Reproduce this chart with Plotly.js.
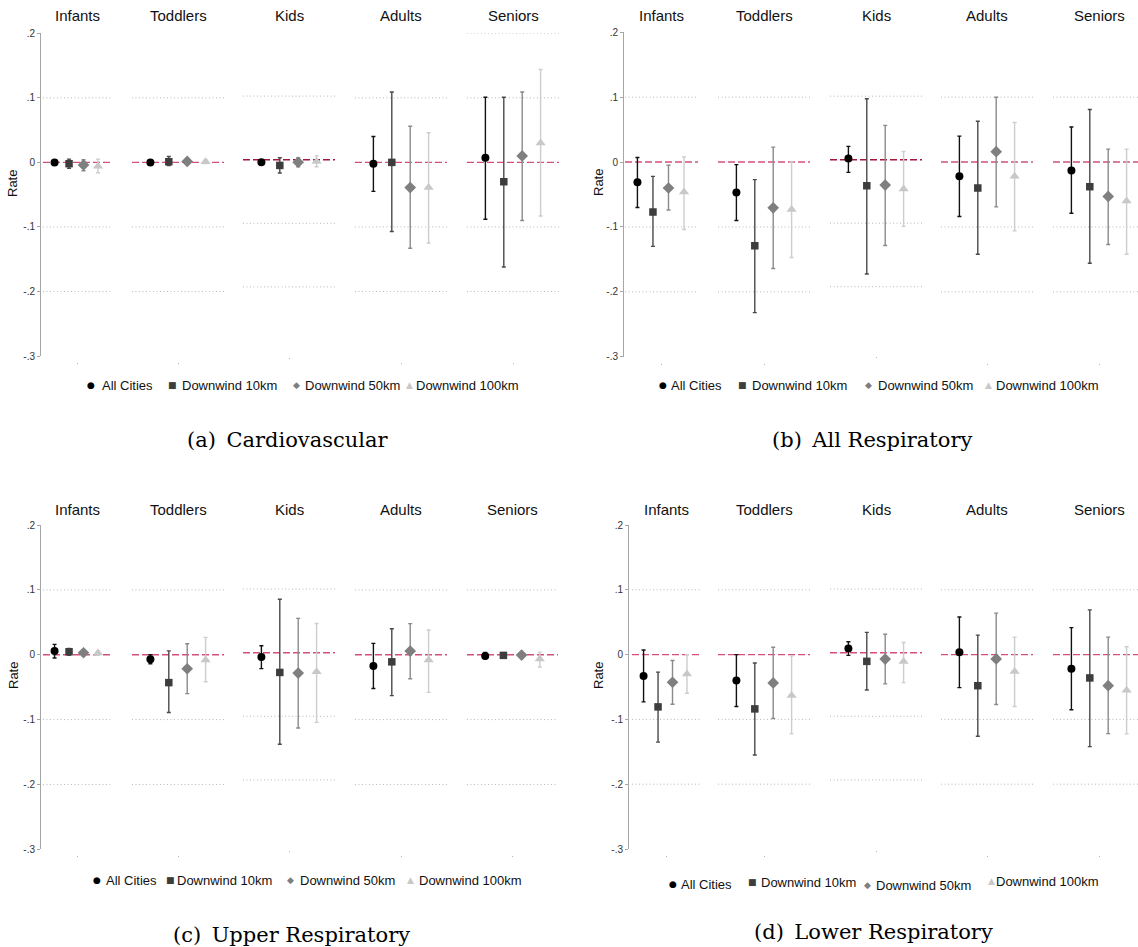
<!DOCTYPE html>
<html>
<head>
<meta charset="utf-8">
<script src="https://cdn.plot.ly/plotly-3.0.1.min.js"></script>
<style>html,body{margin:0;padding:0;background:#fff;}#chart{width:1138px;height:947px;}</style>
</head>
<body>
<div id="chart"></div>
<script>
// ---------- categories / labels ----------
const ageGroups = ['Infants', 'Toddlers', 'Kids', 'Adults', 'Seniors'];
const seriesNames = ['All Cities', 'Downwind 10km', 'Downwind 50km', 'Downwind 100km'];
const panelCaptions = ['(a)\u2002Cardiovascular', '(b)\u2002All Respiratory', '(c)\u2002Upper Respiratory', '(d)\u2002Lower Respiratory'];
const yTickVals = [0.2, 0.1, 0, -0.1, -0.2, -0.3];
const yTickText = ['.2', '.1', '0', '-.1', '-.2', '-.3'];
const yAxisTitle = 'Rate';

// ---------- (a) Cardiovascular : estimate, lower CI, upper CI per age group ----------
const cvAll = [0.000, 0.000, -0.004, -0.002, 0.007];
const cvAllLo = [-0.002, -0.002, -0.007, -0.045, -0.088];
const cvAllHi = [0.002, 0.002, -0.001, 0.040, 0.101];
const cv10 = [-0.002, 0.001, -0.009, 0.000, -0.030];
const cv10Lo = [-0.009, -0.005, -0.021, -0.107, -0.162];
const cv10Hi = [0.005, 0.009, 0.003, 0.109, 0.101];
const cv50 = [-0.004, 0.0015, -0.004, -0.039, 0.010];
const cv50Lo = [-0.013, -0.0025, -0.011, -0.133, -0.090];
const cv50Hi = [0.004, 0.006, 0.003, 0.056, 0.109];
const cv100 = [-0.006, 0.001, -0.003, -0.039, 0.030];
const cv100Lo = [-0.016, -0.002, -0.011, -0.125, -0.083];
const cv100Hi = [0.005, 0.004, 0.006, 0.046, 0.144];

// ---------- (b) All Respiratory ----------
const arAll = [-0.031, -0.047, 0.002, -0.022, -0.013];
const arAllLo = [-0.070, -0.090, -0.020, -0.084, -0.079];
const arAllHi = [0.007, -0.004, 0.021, 0.040, 0.054];
const ar10 = [-0.077, -0.129, -0.041, -0.040, -0.038];
const ar10Lo = [-0.130, -0.232, -0.180, -0.142, -0.156];
const ar10Hi = [-0.022, -0.027, 0.096, 0.063, 0.081];
const ar50 = [-0.040, -0.0705, -0.040, 0.016, -0.053];
const ar50Lo = [-0.074, -0.164, -0.135, -0.069, -0.127];
const ar50Hi = [-0.005, 0.023, 0.054, 0.100, 0.020];
const ar100 = [-0.046, -0.073, -0.046, -0.022, -0.060];
const ar100Lo = [-0.104, -0.147, -0.105, -0.106, -0.142];
const ar100Hi = [0.008, 0.000, 0.013, 0.061, 0.020];

// ---------- (c) Upper Respiratory ----------
const urAll = [0.0056, -0.007, -0.0068, -0.0175, -0.002];
const urAllLo = [-0.005, -0.014, -0.025, -0.052, -0.006];
const urAllHi = [0.016, 0.000, 0.011, 0.0175, 0.0036];
const ur10 = [0.0046, -0.043, -0.031, -0.011, -0.001];
const ur10Lo = [-0.001, -0.089, -0.144, -0.063, -0.004];
const ur10Hi = [0.0098, 0.006, 0.084, 0.040, 0.002];
const ur50 = [0.003, -0.0216, -0.032, 0.0056, -0.0005];
const ur50Lo = [-0.0005, -0.060, -0.1185, -0.037, -0.002];
const ur50Hi = [0.0056, 0.017, 0.054, 0.048, 0.001];
const ur100 = [0.0026, -0.008, -0.030, -0.008, -0.0065];
const ur100Lo = [-0.001, -0.0416, -0.1096, -0.058, -0.019];
const ur100Hi = [0.0056, 0.0267, 0.046, 0.038, 0.004];

// ---------- (d) Lower Respiratory ----------
const lrAll = [-0.033, -0.040, 0.0068, 0.0036, -0.022];
const lrAllLo = [-0.073, -0.080, -0.0042, -0.051, -0.085];
const lrAllHi = [0.0072, 0.000, 0.0173, 0.058, 0.0416];
const lr10 = [-0.0807, -0.0838, -0.0136, -0.048, -0.036];
const lr10Lo = [-0.135, -0.155, -0.0587, -0.126, -0.142];
const lr10Hi = [-0.027, -0.0129, 0.032, 0.030, 0.069];
const lr50 = [-0.0427, -0.0437, -0.010, -0.0067, -0.048];
const lr50Lo = [-0.0766, -0.0987, -0.049, -0.077, -0.122];
const lr50Hi = [-0.009, 0.0113, 0.029, 0.064, 0.027];
const lr100 = [-0.030, -0.063, -0.014, -0.026, -0.055];
const lr100Lo = [-0.0596, -0.1224, -0.047, -0.080, -0.1224];
const lr100Hi = [0.000, -0.002, 0.016, 0.027, 0.012];

const panelSeries = [
  [[cvAll, cvAllLo, cvAllHi], [cv10, cv10Lo, cv10Hi], [cv50, cv50Lo, cv50Hi], [cv100, cv100Lo, cv100Hi]],
  [[arAll, arAllLo, arAllHi], [ar10, ar10Lo, ar10Hi], [ar50, ar50Lo, ar50Hi], [ar100, ar100Lo, ar100Hi]],
  [[urAll, urAllLo, urAllHi], [ur10, ur10Lo, ur10Hi], [ur50, ur50Lo, ur50Hi], [ur100, ur100Lo, ur100Hi]],
  [[lrAll, lrAllLo, lrAllHi], [lr10, lr10Lo, lr10Hi], [lr50, lr50Lo, lr50Hi], [lr100, lr100Lo, lr100Hi]]
];

// ---------- styling / geometry (pixels) ----------
const W = 1138, H = 947;
const fx = v => v / W, fy = v => 1 - v / H;
const markerSymbols = ['circle', 'square', 'diamond', 'triangle-up'];
const markerSizes = [8, 7.5, 9, 9];
const markerColors = ['#000000', '#3d3d3d', '#7f7f7f', '#c8c8c8'];
const barColors = ['#111111', '#4a4a4a', '#8a8a8a', '#cdcdcd'];
const legendGlyphs = ['\u25CF', '\u25A0', '\u25C6', '\u25B2'];

const panels = [
  { axisX: 40, top: 33.3, bot: 356, kTop: 32.5, kBot: 350.5,
    doms: [[43, 111], [132, 224], [243, 335], [355, 447], [467, 559]], titleY: 15,
    rate: [12, 184], cap: [287.5, 440],
    leg: [[91, 100, 385], [172, 180, 385], [296, 303, 385], [409, 414, 385]], topGrid: [4] },
  { axisX: 623, top: 32.3, bot: 356.7, kTop: 32.7, kBot: 350.2,
    doms: [[625, 698], [718, 810], [830, 922], [941, 1033], [1053, 1145]], titleY: 15,
    rate: [598, 183], cap: [872, 440],
    leg: [[663, 669, 385], [742, 750, 385], [868, 876, 385], [988, 994, 385]], topGrid: [] },
  { axisX: 40, top: 525, bot: 849.3, kTop: 525.5, kBot: 843.5,
    doms: [[43, 111], [132, 224], [243, 335], [355, 447], [467, 558]], titleY: 509,
    rate: [13, 676], cap: [291, 935],
    leg: [[97, 104, 880], [170, 175, 880], [290, 298, 880], [410, 417, 880]], topGrid: [] },
  { axisX: 628, top: 525, bot: 849, kTop: 525.5, kBot: 843.5,
    doms: [[632, 700], [718, 810], [830, 922], [941, 1033], [1053, 1145]], titleY: 509,
    rate: [598, 676], cap: [873.5, 932],
    leg: [[673, 679, 884], [752, 759, 882], [867, 874, 885], [991, 994, 881]], topGrid: [] }
];

const layout = {
  width: W, height: H, margin: { l: 0, r: 0, t: 0, b: 0 },
  paper_bgcolor: '#ffffff', plot_bgcolor: 'rgba(0,0,0,0)', showlegend: false,
  font: { family: 'Liberation Sans, Arial, sans-serif', color: '#111' },
  shapes: [], annotations: []
};
const traces = [];
const yName = n => (n === 1 ? 'y' : 'y' + n);
const yKey = n => (n === 1 ? 'yaxis' : 'yaxis' + n);
const xName = n => (n === 1 ? 'x' : 'x' + n);
const xKey = n => (n === 1 ? 'xaxis' : 'xaxis' + n);

panels.forEach((P, pi) => {
  const yMain = pi + 1, yKid = pi + 5;
  layout[yKey(yMain)] = {
    domain: [fy(P.bot), fy(P.top)], range: [-0.3, 0.2], anchor: 'free', position: fx(P.axisX),
    showline: true, linecolor: '#a6a6a6', linewidth: 1, ticks: 'outside', ticklen: 3, tickcolor: '#a6a6a6',
    tickvals: yTickVals, ticktext: yTickText, tickfont: { size: 10, color: '#333' },
    showgrid: false, zeroline: false, fixedrange: true
  };
  layout[yKey(yKid)] = {
    domain: [fy(P.kBot), fy(P.kTop)], range: [-0.3, 0.2], anchor: 'free', position: 0,
    visible: false, showgrid: false, zeroline: false, fixedrange: true
  };
  // Rate title
  layout.annotations.push({ text: yAxisTitle, xref: 'paper', yref: 'paper', x: fx(P.rate[0]), y: fy(P.rate[1]),
    xanchor: 'center', yanchor: 'middle', textangle: -90, showarrow: false, font: { size: 13, color: '#111' } });
  // caption
  layout.annotations.push({ text: panelCaptions[pi], xref: 'paper', yref: 'paper', x: fx(P.cap[0]), y: fy(P.cap[1]),
    xanchor: 'center', yanchor: 'middle', showarrow: false, font: { family: 'DejaVu Serif, serif', size: 21, color: '#000' } });
  // legend
  P.leg.forEach((L, s) => {
    layout.annotations.push({ text: legendGlyphs[s], xref: 'paper', yref: 'paper', x: fx(L[0]), y: fy(L[2]),
      xanchor: 'center', yanchor: 'middle', showarrow: false, font: { family: 'DejaVu Sans, sans-serif', size: 9, color: markerColors[s] } });
    layout.annotations.push({ text: seriesNames[s], xref: 'paper', yref: 'paper', x: fx(L[1]), y: fy(L[2]),
      xanchor: 'left', yanchor: 'middle', showarrow: false, font: { size: 13, color: '#111' } });
  });

  ageGroups.forEach((age, g) => {
    const xi = pi * 5 + g + 1;
    const yi = g === 2 ? yKid : yMain;
    const [d0, d1] = P.doms[g];
    const r0 = g === 0 ? 0.2 : 0, r1 = g === 0 ? 4.9 : 5;
    const d1c = Math.min(d1, W);
    const r1c = r0 + (r1 - r0) * (d1c - d0) / (d1 - d0);
    const bot = g === 2 ? P.kBot : P.bot;
    layout[xKey(xi)] = {
      domain: [fx(d0), fx(d1c)], range: [r0, r1c], anchor: 'free', position: fy(bot + 6),
      showline: false, showgrid: false, zeroline: false, showticklabels: false,
      ticks: 'outside', ticklen: 1, tickwidth: 1, tickcolor: '#b5b5b5', tickvals: [(r0 + r1) / 2], fixedrange: true
    };
    // subplot title
    layout.annotations.push({ text: age, xref: 'paper', yref: 'paper', x: fx((d0 + d1) / 2), y: fy(P.titleY),
      xanchor: 'center', yanchor: 'middle', showarrow: false, font: { size: 15, color: '#111' } });
    // dotted gridlines
    const grids = [0.1, -0.1, -0.2].concat(P.topGrid.includes(g) ? [0.2] : []);
    grids.forEach(gv => layout.shapes.push({ type: 'line', layer: 'below', xref: xName(xi) + ' domain', x0: 0, x1: 1,
      yref: yName(yi), y0: gv, y1: gv, line: { color: '#b8b8b8', width: 1, dash: '1px,2.5px' } }));
    // zero reference line
    const kidsDark = g === 2 && pi < 2;
    layout.shapes.push({ type: 'line', layer: 'below', xref: xName(xi) + ' domain', x0: 0, x1: 1,
      yref: yName(yi), y0: 0, y1: 0, line: { color: kidsDark ? '#a3173d' : '#d4507a', width: 1.4, dash: '7px,3px' } });

    panelSeries[pi].forEach((ser, s) => {
      const [est, lo, hi] = ser;
      traces.push({
        type: 'scatter', mode: 'markers', name: seriesNames[s],
        x: [s + 1], y: [est[g]], xaxis: xName(xi), yaxis: yName(yi),
        marker: { symbol: markerSymbols[s], size: markerSizes[s], color: markerColors[s], line: { width: 0 } },
        error_y: { type: 'data', symmetric: false, array: [hi[g] - est[g]], arrayminus: [est[g] - lo[g]],
          color: barColors[s], thickness: 1.4, width: 2 },
        cliponaxis: false, hoverinfo: 'skip', showlegend: false
      });
    });
  });
});

Plotly.newPlot('chart', traces, layout, { staticPlot: true, displayModeBar: false });
</script>
</body>
</html>
